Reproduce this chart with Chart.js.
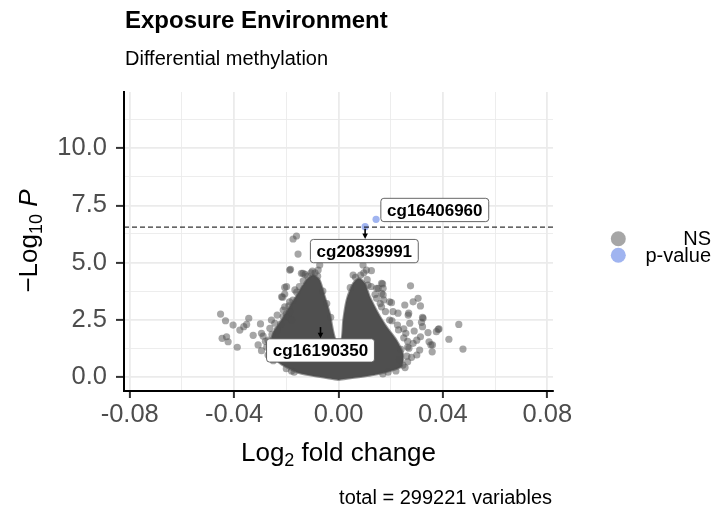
<!DOCTYPE html>
<html><head><meta charset="utf-8">
<script src="https://cdn.jsdelivr.net/npm/chart.js@4.4.1/dist/chart.umd.min.js"></script>
<style>html,body{margin:0;padding:0;background:#fff}#wrap{width:714px;height:510px;position:relative}</style>
</head><body><div id="wrap"><canvas id="c" width="714" height="510"></canvas></div>
<script>
// ---- data ----
const xTicks = [-0.08,-0.06,-0.04,-0.02,0,0.02,0.04,0.06,0.08];
const xMajorStep = 0.04;
const yTicks = [0,1.25,2.5,3.75,5,6.25,7.5,8.75,10,11.25];
const yMajorStep = 2.5;
const xRange = [-0.0822, 0.0822];
const yRange = [-0.626, 12.465];

// outline of the dense (fully overlapping) NS cloud
const cloudX = [0,-0.0148,-0.0225,-0.0263,-0.0251,-0.0218,-0.0187,-0.0155,-0.0123,-0.0097,-0.0072,-0.0052,-0.0033,-0.0021,-0.0010,0.0011,0.0018,0.0031,0.0056,0.0079,0.0101,0.0120,0.0152,0.0184,0.0222,0.0247,0.0241,0.0133,0];
const cloudY = [-0.14,0.15,0.59,1.17,1.90,2.48,3.06,3.65,4.23,4.45,4.23,3.50,2.78,2.04,1.61,1.61,2.48,3.36,4.09,4.31,4.09,3.50,2.78,2.19,1.61,1.02,0.44,0.07,-0.14];

// NS points along the fuzzy edge of the dense cloud
const edgeX = [-0.0240,-0.0235,-0.0222,-0.0200,-0.0190,-0.0175,-0.0160,-0.0150,-0.0135,-0.0118,-0.0105,-0.0090,-0.0080,-0.0100,-0.0128,-0.0060,-0.0045,-0.0030,
 0.0045,0.0065,0.0085,0.0110,0.0125,0.0140,0.0160,0.0180,0.0205,0.0230,0.0250,0.0265,0.0262,0.0255,0.0220,0.0170,
 -0.0240,-0.0260,-0.0200,-0.0170,-0.0275,-0.0270,-0.0255];
const edgeY = [1.45,2.05,2.30,2.75,3.10,3.35,3.70,3.95,4.20,4.40,4.55,4.55,4.40,4.62,4.48,3.75,3.20,2.60,
 3.90,4.35,4.45,4.25,3.95,3.60,3.20,2.85,2.45,2.05,1.70,1.30,0.90,0.40,0.25,0.12,
 0.80,1.05,0.35,0.20,1.30,1.60,1.85];

// individual NS points outside the dense cloud
const nsX = [-0.0452,-0.0433,-0.0404,-0.0446,-0.0429,-0.0423,-0.0388,-0.0378,-0.0363,-0.0352,-0.0344,-0.0327,-0.0299,-0.0295,-0.0308,-0.0295,-0.0289,-0.0257,-0.0244,-0.0263,-0.0235,-0.0218,-0.0206,-0.0212,-0.0214,-0.0206,-0.0199,-0.0167,-0.0187,-0.0193,-0.0206,-0.0187,-0.0212,-0.0180,-0.0184,-0.0187,-0.0155,-0.0174,-0.0161,-0.0142,-0.0136,-0.0078,-0.0072,-0.0270,-0.0250,-0.0280,-0.0240,-0.0180,
 0.0094,0.0107,0.0126,0.0056,0.0097,0.0169,0.0165,0.0171,0.0146,0.0152,0.0113,0.0165,0.0171,0.0146,0.0276,0.0173,0.0203,0.0196,0.0165,0.0209,0.0254,0.0286,0.0305,0.0314,0.0228,0.0267,0.0269,0.0273,0.0324,0.0322,0.0318,0.0322,0.0343,0.0375,0.0385,0.0382,0.0461,0.0423,0.0477,0.0347,0.0360,0.0354,0.0359,0.0314,0.0311,0.0280,0.0247,0.0286,0.0226,0.0196,0.0258,0.0270,0.0234,0.0290,0.0300,0.0265,0.0250,0.0240,0.0300,0.0265,0.0190];
const nsY = [2.74,2.45,2.26,1.68,1.75,1.53,1.29,2.04,2.19,2.29,2.56,1.81,2.31,1.90,1.39,1.14,1.78,2.48,2.34,2.12,2.70,3.50,3.62,2.92,3.48,3.91,3.94,3.80,3.28,2.63,3.06,2.85,2.63,2.48,4.70,4.67,5.37,6.03,6.16,4.53,4.53,4.67,4.89,0.95,0.70,1.55,1.70,0.25,
 4.89,4.67,4.64,4.45,4.55,4.06,4.09,3.87,3.87,3.87,4.01,3.65,3.58,3.43,3.98,3.36,3.24,3.28,3.06,2.85,3.14,3.28,3.43,3.10,2.78,2.70,2.78,2.34,2.56,2.60,2.38,2.19,1.93,1.97,2.09,2.07,2.29,1.64,1.21,1.53,1.39,1.39,1.09,1.75,1.17,0.85,0.51,1.46,2.26,2.48,1.90,1.25,0.75,2.00,1.60,1.55,2.10,1.20,0.95,0.65,0.20];

// p-value significant points
const sigX = [0.0144, 0.0102];
const sigY = [6.89, 6.57];

// labels
const labelText = ['cg16406960','cg20839991','cg16190350'];
const labelPointX = [0.0144, 0.0102, -0.0069];
const labelPointY = [6.89, 6.57, 2.26];
const labelBoxX = [0.0369, 0.0099, -0.0069];
const labelBoxY = [7.30, 5.50, 1.15];
const labelArrow = [false, true, true];

const cutoff = 6.55;
const legendNames = ['NS','p-value'];
const legendColors = ['rgba(77,77,77,0.5)','rgba(65,105,225,0.5)'];

// ---- chart ----
const FONT = '"Liberation Sans", Arial, Helvetica, sans-serif';
const isMajor = (v, step) => Math.abs(v/step - Math.round(v/step)) < 1e-6;
const toPts = (xs, ys) => xs.map((v,i)=>({x:v, y:ys[i]}));

const overlay = {
  id: 'overlay',
  afterDatasetsDraw(chart){
    const {ctx, chartArea:a, scales:{x, y}} = chart;
    ctx.save();
    ctx.beginPath(); ctx.rect(a.left, a.top, a.right-a.left, a.bottom-a.top); ctx.clip();
    const yc = y.getPixelForValue(cutoff);
    ctx.setLineDash([5,3]); ctx.strokeStyle = '#000'; ctx.lineWidth = 1;
    ctx.beginPath(); ctx.moveTo(a.left, yc); ctx.lineTo(a.right, yc); ctx.stroke();
    ctx.setLineDash([]);
    ctx.font = 'bold 17px ' + FONT;
    labelText.forEach((t,i)=>{
      const bx = x.getPixelForValue(labelBoxX[i]), by = y.getPixelForValue(labelBoxY[i]);
      const px = x.getPixelForValue(labelPointX[i]), py = y.getPixelForValue(labelPointY[i]);
      const w = ctx.measureText(t).width + 12.4, h = 23.3;
      const l = bx - w/2, tp = by - h/2;
      if (labelArrow[i]) {
        ctx.strokeStyle = '#000'; ctx.lineWidth = 1.6;
        ctx.beginPath(); ctx.moveTo(px, py + 2); ctx.lineTo(px, tp - 3); ctx.stroke();
        ctx.fillStyle = '#000';
        ctx.beginPath(); ctx.moveTo(px, tp - 0.5); ctx.lineTo(px - 2.8, tp - 6); ctx.lineTo(px + 2.8, tp - 6); ctx.closePath(); ctx.fill();
      }
      const r = 3;
      ctx.beginPath();
      ctx.moveTo(l + r, tp); ctx.lineTo(l + w - r, tp); ctx.quadraticCurveTo(l + w, tp, l + w, tp + r);
      ctx.lineTo(l + w, tp + h - r); ctx.quadraticCurveTo(l + w, tp + h, l + w - r, tp + h);
      ctx.lineTo(l + r, tp + h); ctx.quadraticCurveTo(l, tp + h, l, tp + h - r);
      ctx.lineTo(l, tp + r); ctx.quadraticCurveTo(l, tp, l + r, tp); ctx.closePath();
      ctx.fillStyle = '#fff'; ctx.fill();
      ctx.strokeStyle = '#555'; ctx.lineWidth = 0.9; ctx.stroke();
      ctx.fillStyle = '#000'; ctx.textAlign = 'center'; ctx.textBaseline = 'middle';
      ctx.fillText(t, bx, by + 1);
    });
    ctx.restore();
  },
  afterDraw(chart){
    const {ctx, chartArea:a} = chart;
    ctx.save();
    ctx.fillStyle = '#000'; ctx.textBaseline = 'alphabetic'; ctx.textAlign = 'left';
    ctx.font = 'bold 24px ' + FONT;
    ctx.fillText('Exposure Environment', 125, 27.5);
    ctx.font = '20px ' + FONT;
    ctx.fillText('Differential methylation', 125, 64.5);
    ctx.textAlign = 'right';
    ctx.fillText('total = 299221 variables', 552, 504);
    // x axis title
    const big = '26px ' + FONT, sub = '18px ' + FONT;
    const segsX = [['Log', big, 0], ['2', sub, 5], [' fold change', big, 0]];
    const drawSegs = (segs, cx, base) => {
      let tw = 0;
      segs.forEach(s => { ctx.font = s[1]; tw += ctx.measureText(s[0]).width; });
      let cur = cx - tw/2;
      ctx.textAlign = 'left';
      segs.forEach(s => { ctx.font = s[1]; ctx.fillText(s[0], cur, base + s[2]); cur += ctx.measureText(s[0]).width; });
    };
    drawSegs(segsX, (a.left + a.right)/2, 461);
    // y axis title (rotated)
    ctx.save();
    ctx.translate(28, 241);
    ctx.rotate(-Math.PI/2);
    drawSegs([['\u2212Log', big, 0], ['10', sub, 5], [' ', big, 0], ['P', 'italic 26px ' + FONT, 0]], 0, 9);
    ctx.restore();
    // legend
    const ly = [238.8, 255.3];
    legendNames.forEach((n,i)=>{
      ctx.fillStyle = legendColors[i];
      ctx.beginPath(); ctx.arc(618.3, ly[i], 7.5, 0, Math.PI*2); ctx.fill();
      ctx.fillStyle = '#000'; ctx.font = '20px ' + FONT; ctx.textAlign = 'right'; ctx.textBaseline = 'middle';
      ctx.fillText(n, 711, ly[i] + 1);
    });
    ctx.restore();
  }
};

new Chart(document.getElementById('c'), {
  type: 'scatter',
  data: {
    datasets: [
      { label: 'p-value', data: toPts(sigX, sigY), backgroundColor: legendColors[1], borderWidth: 0, pointRadius: 3.6, order: 0 },
      { label: 'NS', data: toPts(nsX, nsY), backgroundColor: legendColors[0], borderWidth: 0, pointRadius: 3.6, order: 1 },
      { label: 'NS-edge', data: toPts(edgeX, edgeY), backgroundColor: legendColors[0], borderWidth: 0, pointRadius: 3.6, order: 2 },
      { label: 'NS-dense', type: 'line', data: toPts(cloudX, cloudY), fill: 'shape', backgroundColor: '#4f4f4f', borderColor: 'rgba(79,79,79,0.6)', borderWidth: 2, pointRadius: 0, tension: 0.2, order: 3 }
    ]
  },
  options: {
    responsive: false, animation: false, devicePixelRatio: 1, events: [],
    layout: { padding: { top: 92, right: 161, bottom: 0, left: 0 } },
    plugins: { legend: { display: false }, tooltip: { enabled: false }, title: { display: false } },
    scales: {
      x: {
        type: 'linear', min: xRange[0], max: xRange[1],
        afterBuildTicks: s => { s.ticks = xTicks.map(v => ({value: v})); },
        afterFit: s => { s.height = 119; },
        ticks: { autoSkip: false, maxRotation: 0, padding: 4, color: '#4d4d4d',
          font: { family: FONT, size: 25.5, lineHeight: 1 },
          callback: v => isMajor(v, xMajorStep) ? v.toFixed(2) : '' },
        grid: {
          color: '#ebebeb',
          lineWidth: c => isMajor(c.tick.value, xMajorStep) ? 1.8 : 0.9,
          tickColor: c => isMajor(c.tick.value, xMajorStep) ? '#333' : 'rgba(0,0,0,0)',
          tickWidth: 2, tickLength: 7
        },
        border: { color: '#000', width: 2 }
      },
      y: {
        type: 'linear', min: yRange[0], max: yRange[1],
        afterBuildTicks: s => { s.ticks = yTicks.map(v => ({value: v})); },
        afterFit: s => { s.width = 124; },
        ticks: { autoSkip: false, padding: 9, color: '#4d4d4d',
          font: { family: FONT, size: 25.5, lineHeight: 1 },
          callback: v => isMajor(v, yMajorStep) ? v.toFixed(1) : '' },
        grid: {
          color: '#ebebeb',
          lineWidth: c => isMajor(c.tick.value, yMajorStep) ? 1.8 : 0.9,
          tickColor: c => isMajor(c.tick.value, yMajorStep) ? '#333' : 'rgba(0,0,0,0)',
          tickWidth: 2, tickLength: 8
        },
        border: { color: '#000', width: 2 }
      }
    }
  },
  plugins: [overlay]
});
</script>
</body></html>
